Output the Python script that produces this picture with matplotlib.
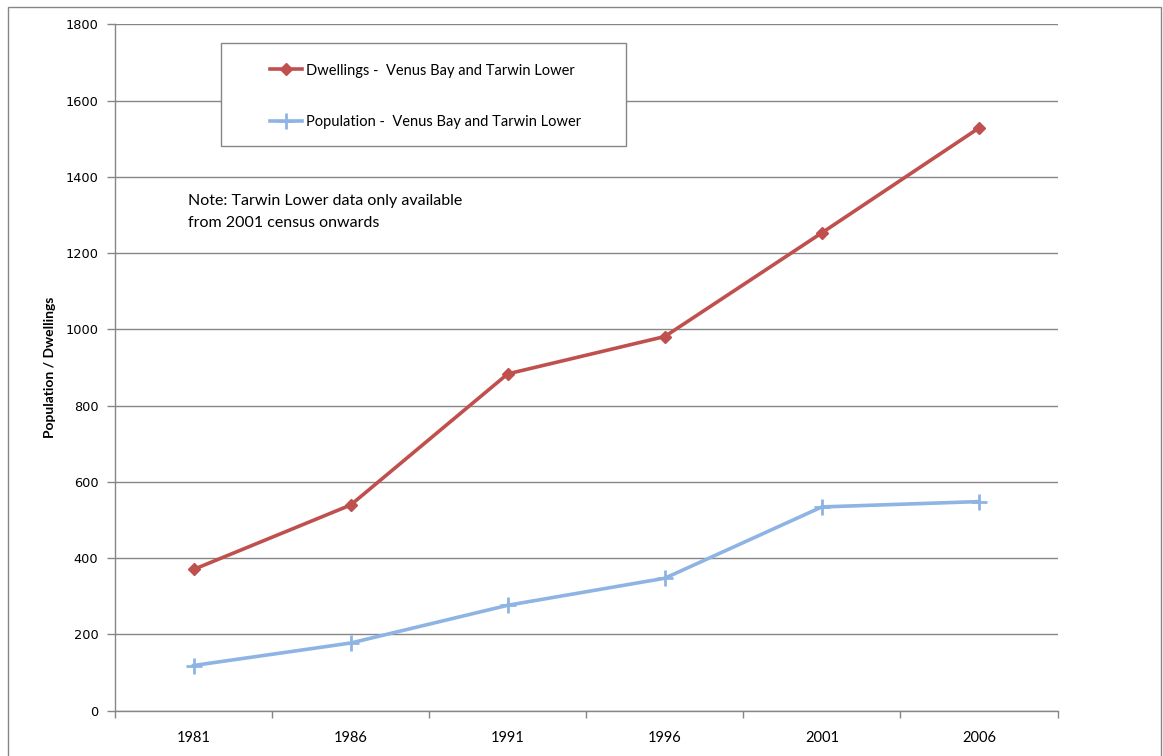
import matplotlib
matplotlib.use("Agg")
import matplotlib.pyplot as plt
from matplotlib.patches import Rectangle

# data
years = ["1981", "1986", "1991", "1996", "2001", "2006"]
dwellings = [370, 539, 883, 981, 1253, 1528]
population = [118, 177, 276, 347, 534, 548]

RED = "#C0504D"
BLUE = "#8EB4E3"
GRID = "#868686"

W, H = 1163, 756
fig = plt.figure(figsize=(W / 100, H / 100), dpi=100)
ax = fig.add_axes([115 / W, 1 - 710.5 / H, (1057.5 - 115) / W, (710.5 - 24.3) / H])

x = list(range(len(years)))
ax.plot(x, dwellings, color=RED, lw=2.6, marker="D", ms=6, mec=RED, mfc=RED,
        label="Dwellings -  Venus Bay and Tarwin Lower", zorder=4)
ax.plot(x, population, color=BLUE, lw=2.6, marker="+", ms=11, mew=2, mec=BLUE,
        label="Population -  Venus Bay and Tarwin Lower", zorder=4)

ax.set_xlim(-0.5, len(years) - 0.5)
ax.set_ylim(0, 1800)
ax.set_yticks(range(0, 1801, 200))
ax.set_xticks(x)
ax.set_xticklabels(years, family="Lato", fontsize=10.5)
ax.set_xticks([i - 0.5 for i in range(len(years) + 1)], minor=True)
ax.tick_params(axis="x", which="major", length=0, pad=15)
ax.tick_params(axis="x", which="minor", length=5, color=GRID, width=1)
ax.tick_params(axis="y", length=6, color=GRID, width=1, pad=6)
for lab in ax.get_yticklabels():
    lab.set_family("DejaVu Sans")
    lab.set_fontsize(9.3)

ax.grid(axis="y", color=GRID, lw=1)
ax.set_axisbelow(True)
for s in ["top", "right"]:
    ax.spines[s].set_visible(False)
for s in ["left", "bottom"]:
    ax.spines[s].set_color(GRID)
    ax.spines[s].set_linewidth(1)

ax.set_ylabel("Population / Dwellings", family="Lato", fontsize=10,
              fontweight="bold", labelpad=7)

# legend box and entries
box = Rectangle((221 / W, 1 - 146 / H), 405 / W, 103 / H, transform=fig.transFigure,
                facecolor="white", edgecolor=GRID, lw=1, zorder=5)
fig.patches.append(box)
leg = fig.legend(loc="upper left", bbox_to_anchor=(270 / W, 1 - 63.5 / H),
                 frameon=False, borderpad=0, borderaxespad=0, handlelength=2.2,
                 handletextpad=0.25, labelspacing=2.6,
                 prop={"family": "Lato", "size": 10.5})
leg.set_zorder(6)

fig.text(188 / W, 1 - 212 / H,
         "Note: Tarwin Lower data only available\nfrom 2001 census onwards",
         family="Lato", fontsize=11.5, va="center", linespacing=1.75)

# outer chart border
fig.patches.append(Rectangle((8 / W, -0.02), (1161 - 8) / W, 1.02 - 7 / H,
                             transform=fig.transFigure, fill=False,
                             edgecolor=GRID, lw=1))

fig.savefig("out.png", dpi=100)
